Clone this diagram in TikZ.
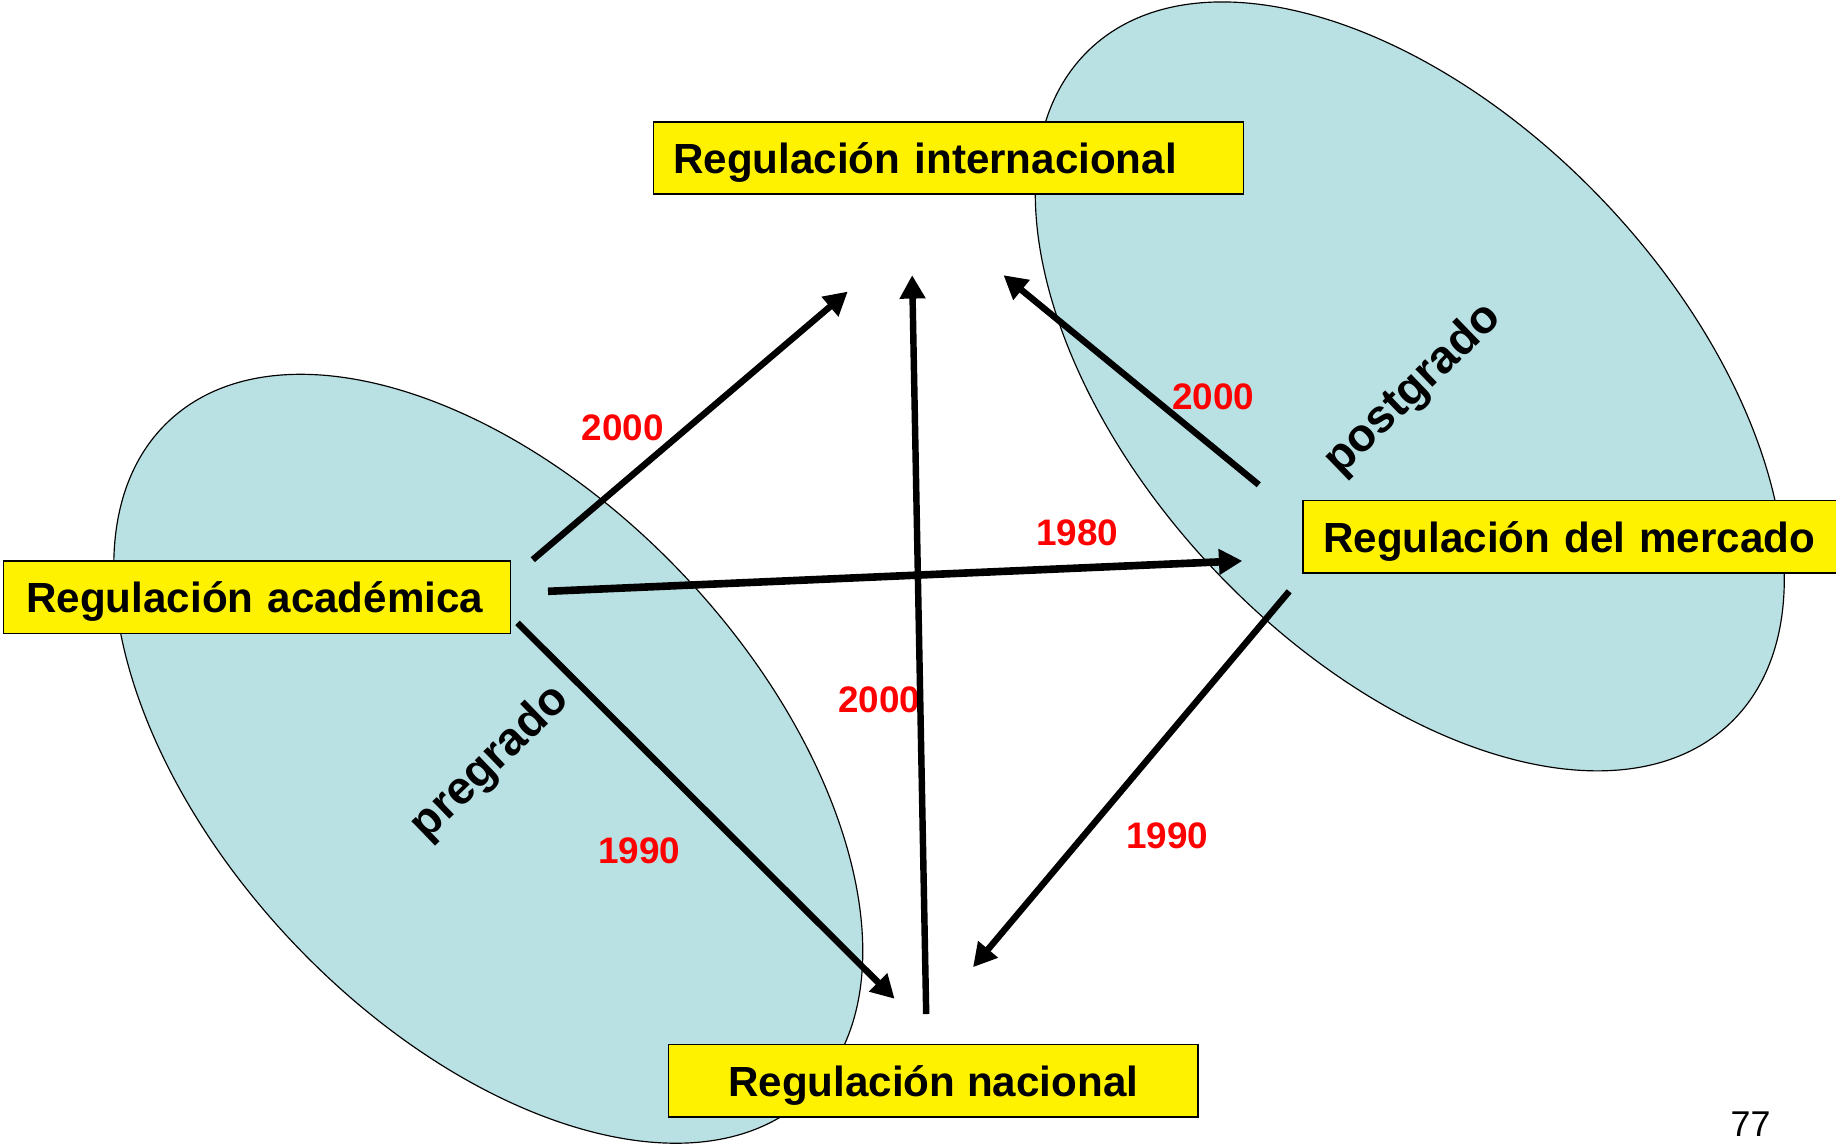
\documentclass[tikz,border=0pt]{standalone}
\usepackage{fontspec}
\setmainfont{Liberation Sans}
\usepackage{xcolor}
\usetikzlibrary{arrows.meta}
\definecolor{ovalblue}{RGB}{185,224,227}

\tikzset{
  regbox/.style={draw=black, line width=1.5pt, fill=yellow, font=\bfseries\fontsize{36}{40}\selectfont, minimum height=62pt, inner ysep=0pt, text height=34pt, text depth=7pt, align=left},
  year/.style={text=red, font=\bfseries\fontsize{31.5}{34}\selectfont},
  level/.style={font=\bfseries\fontsize{39.5}{44}\selectfont, rotate=44},
  oval/.style={draw=black, line width=1pt, fill=ovalblue},
  arr/.style={line width=5.5pt, -{Triangle[length=20pt,width=21pt]}}
}

\begin{document}
\begin{tikzpicture}[x=1pt, y=-1pt]
\useasboundingbox (0, 0) rectangle (1568, 977);
\filldraw [oval] (417, 648) ellipse [x radius=397, y radius=229, rotate=-46.5];
\filldraw [oval] (1204, 330) ellipse [x radius=397, y radius=229, rotate=-46.5];
\node [level] (pre)  at (419, 652) {pregrado};
\node [level] (post) at (1207, 333) {postgrado};

\node [regbox, text width=470pt, inner xsep=17pt] (intl) at (810, 135) {Regulación internacional};
\node [regbox, text width=394pt, inner xsep=19.5pt] (acad) at (219.5, 510) {Regulación académica};
\node [regbox, text width=425pt, inner xsep=17pt] (merc) at (1342.5, 458.5) {Regulación del mercado};
\node [regbox, minimum width=452pt, inner xsep=10pt] (nac) at (797, 923) {Regulación nacional};

\node [year] (y1) at (532, 365) {2000};
\node [year] (y2) at (751, 598) {2000};
\node [year] (y3) at (1036, 339) {2000};
\node [year] (y4) at (920, 455) {1980};
\node [year] (y5) at (546, 727) {1990};
\node [year] (y6) at (997, 714) {1990};

\coordinate (acadA) at (455, 478);
\coordinate (acadB) at (468, 505);
\coordinate (acadC) at (442, 532);
\coordinate (mercA) at (1075, 414);
\coordinate (mercB) at (1101, 505);
\coordinate (nacA)  at (791, 866);
\coordinate (intlA) at (724, 249);
\coordinate (intlB) at (779, 235);
\coordinate (intlC) at (857, 235);
\coordinate (mercIn) at (1061, 479);
\coordinate (nacInA) at (764, 853);
\coordinate (nacInB) at (831, 826);

\draw [arr] (acadA) -- (intlA);
\draw [arr] (nacA) -- (intlB);
\draw [arr] (mercA) -- (intlC);
\draw [arr, line width=6.5pt] (acadB) -- (mercIn);
\draw [arr] (acadC) -- (nacInA);
\draw [arr] (mercB) -- (nacInB);

\node [font=\fontsize{30.6}{34}\selectfont] (page) at (1495, 960) {77};
\end{tikzpicture}
\end{document}
